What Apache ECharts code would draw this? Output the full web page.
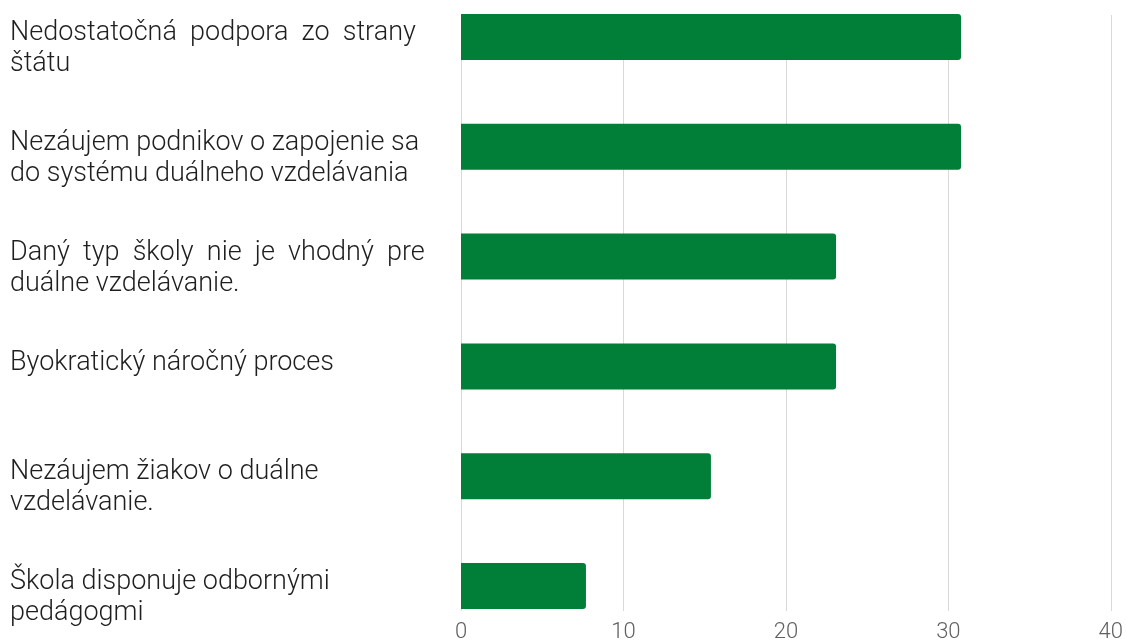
<!DOCTYPE html>
<html>
<head>
<meta charset="utf-8">
<script src="https://cdn.jsdelivr.net/npm/echarts@6/dist/echarts.min.js"></script>
<style>
html,body{margin:0;padding:0;background:#fff;}
#chart{width:1126px;height:643px;}
</style>
</head>
<body>
<div id="chart"></div>
<script>
var categories = [
  'Nedostatočná  podpora  zo  strany\nštátu',
  'Nezáujem podnikov o zapojenie sa\ndo systému duálneho vzdelávania',
  'Daný  typ  školy  nie  je  vhodný  pre\nduálne vzdelávanie.',
  'Byokratický náročný proces',
  'Nezáujem žiakov o duálne\nvzdelávanie.',
  'Škola disponuje odbornými\npedágogmi'
];
var values = [30.77, 30.77, 23.08, 23.08, 15.38, 7.69];
var xTicks = [0, 10, 20, 30, 40];

var chart = echarts.init(document.getElementById('chart'));
var GL = 461, GR = 15;
chart.setOption({
  animation: false,
  grid: [
    {left: GL, right: GR, top: 37, bottom: 57},
    {left: GL, right: GR, top: 15, bottom: 32},
    {left: GL, right: GR, top: 18, bottom: 76}
  ],
  xAxis: [
    {gridIndex: 0, type: 'value', min: xTicks[0], max: xTicks[xTicks.length-1], show: false},
    {gridIndex: 1, type: 'value', min: xTicks[0], max: xTicks[xTicks.length-1], interval: 10,
     axisLine: {show: false}, axisTick: {show: false},
     splitLine: {show: true, lineStyle: {color: '#d9d9d9', width: 1}},
     axisLabel: {color: '#606060', fontFamily: 'Roboto', fontWeight: 300, fontSize: 22, margin: 10}},
    {gridIndex: 2, type: 'value', min: 0, max: 40, show: false}
  ],
  yAxis: [
    {gridIndex: 0, type: 'category', inverse: true, boundaryGap: false, data: categories, show: false},
    {gridIndex: 1, type: 'value', show: false},
    {gridIndex: 2, type: 'category', inverse: true, boundaryGap: false, data: categories,
     axisLine: {show: false}, axisTick: {show: false}, splitLine: {show: false},
     axisLabel: {
       show: true, align: 'left', verticalAlign: 'top', margin: GL - 10,
       color: '#1f1f1f', fontFamily: 'Roboto', fontWeight: 300, fontSize: 27, lineHeight: 31
     }}
  ],
  series: [{
    type: 'bar', xAxisIndex: 0, yAxisIndex: 0, data: values,
    barWidth: 46,
    itemStyle: {color: '#017f39', borderRadius: [0, 3, 3, 0]},
    silent: true
  }]
});
</script>
</body>
</html>
